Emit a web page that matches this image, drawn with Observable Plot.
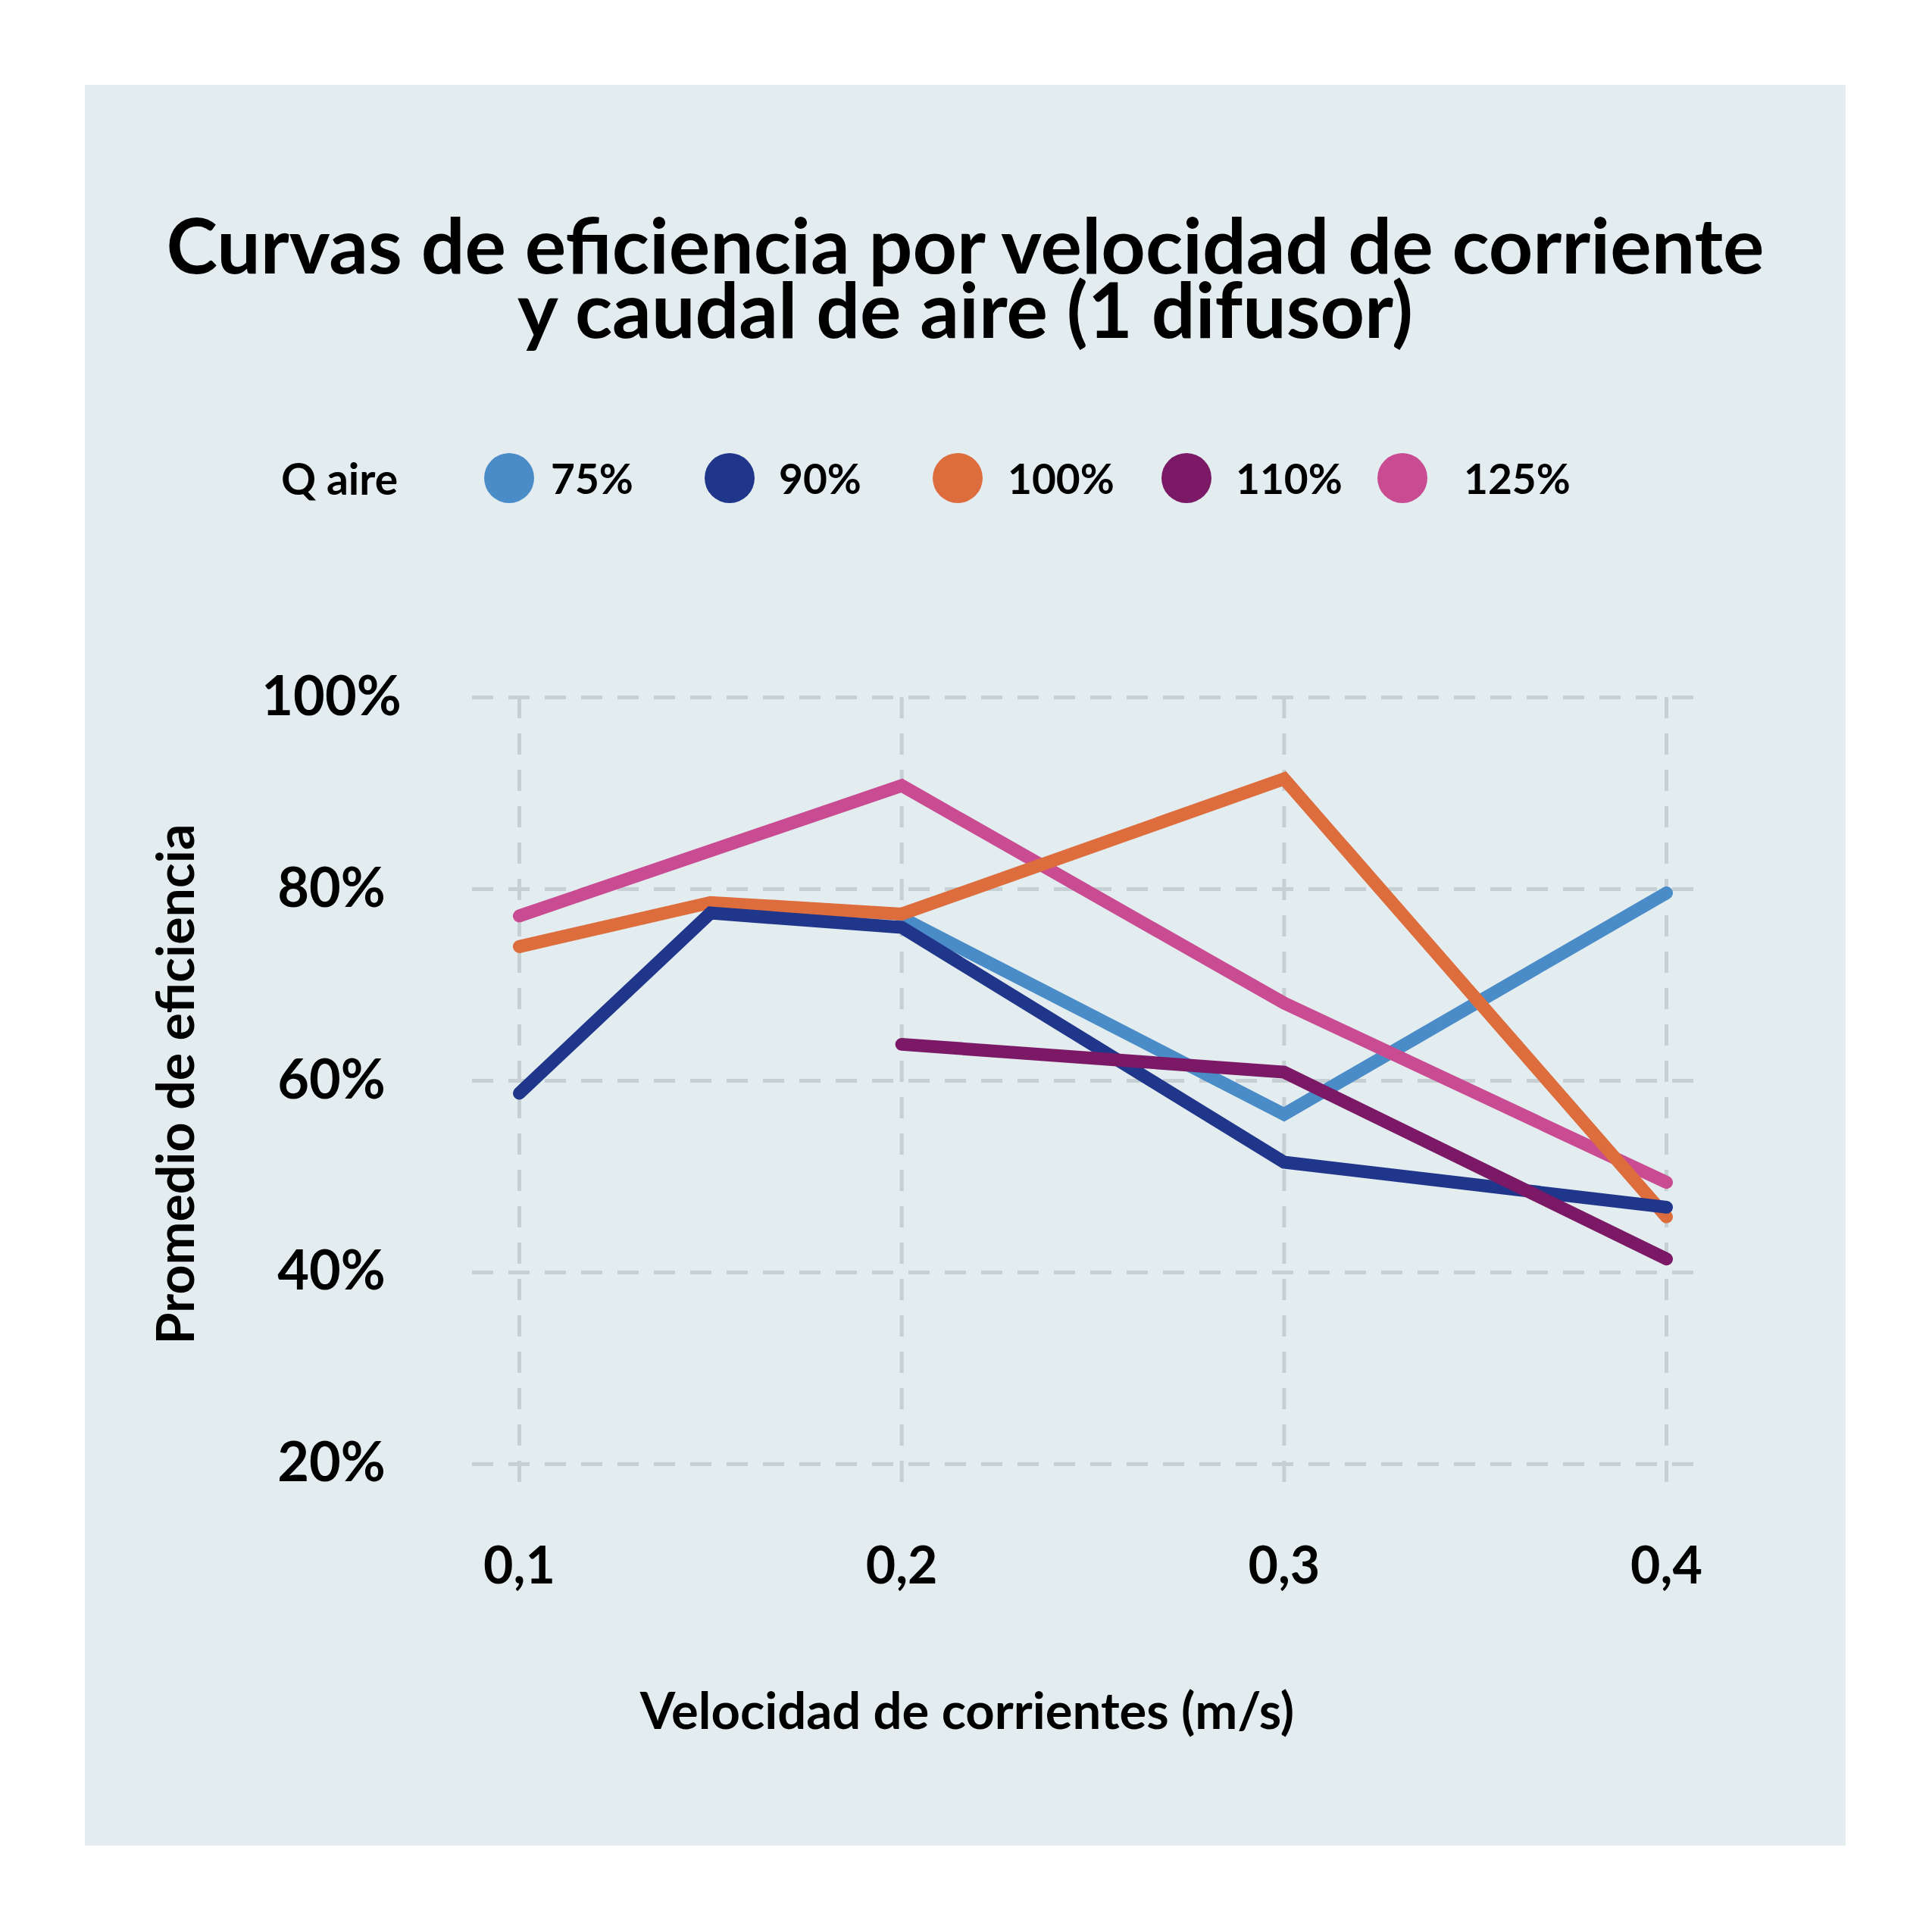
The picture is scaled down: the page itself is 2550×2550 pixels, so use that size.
<!DOCTYPE html>
<html>
<head>
<meta charset="utf-8">
<script src="https://cdn.jsdelivr.net/npm/d3@7"></script>
<script src="https://cdn.jsdelivr.net/npm/@observablehq/plot@0.6"></script>
<style>
  html, body { margin: 0; padding: 0; background: #ffffff; }
  #page { position: relative; width: 2550px; height: 2550px; background: #ffffff; font-family: Lato, "Open Sans", sans-serif; color: #000; }
  #panel { position: absolute; left: 112px; top: 112px; width: 2324px; height: 2324px; background: #e3edf0; }
  #title { position: absolute; left: 0; top: 167px; width: 100%; text-align: center; font-weight: 700; font-size: 102px; line-height: 85px; }
  #legend { position: absolute; left: 0; top: 479px; width: 100%; height: 80px; }
  .lg-title, .lg-label { position: absolute; top: 0; height: 80px; line-height: 80px; font-size: 55px; font-weight: 700; white-space: nowrap; }
  .lg-title { font-size: 57px; }
  .lg-dot { position: absolute; top: 7px; width: 66px; height: 66px; border-radius: 50%; }
  #chart { position: absolute; left: 0; top: 688px; }
</style>
</head>
<body>
<div id="page">
  <div id="panel">
    <div id="title"></div>
    <div id="legend"></div>
    <div id="chart"></div>
  </div>
</div>
<script>
// ---- data ----
const titleLines = ["Curvas de eficiencia por velocidad de corriente", "y caudal de aire (1 difusor)"];
const legendTitle = "Q aire";
const xLabel = "Velocidad de corrientes (m/s)";
const yLabel = "Promedio de eficiencia";

const velocities = [0.1, 0.15, 0.2, 0.3, 0.4];
const seriesNames = ["75%", "90%", "100%", "110%", "125%"];
const seriesColors = ["#4a8cc7", "#20368b", "#dd6d3d", "#7b1966", "#c94c93"];

const q75  = [null, null, 77.0, 56.5, 79.6];
const q90  = [58.7, 77.5, 76.0, 51.5, 46.8];
const q100 = [74.0, 78.6, 77.4, 91.5, 45.8];
const q110 = [null, null, 63.8, 60.9, 41.4];
const q125 = [77.2, null, 90.8, 68.1, 49.4];

const xTicks = [0.1, 0.2, 0.3, 0.4];
const yTicks = [20, 40, 60, 80, 100];

// drawing order (bottom to top)
const drawOrder = ["75%", "125%", "100%", "90%", "110%"];

// ---- build ----
const valuesByName = {"75%": q75, "90%": q90, "100%": q100, "110%": q110, "125%": q125};
const table = [];
for (const name of drawOrder) {
  valuesByName[name].forEach((v, i) => {
    if (v != null) table.push({s: name, x: velocities[i], y: v});
  });
}

document.getElementById("title").innerHTML = titleLines.join("<br>");

// legend layout (panel-relative pixel positions)
const legendDotCenters = [560, 851, 1152, 1454, 1739];
const legendLabelLefts = [615, 916, 1218, 1519, 1820];
const legend = document.getElementById("legend");
const t = document.createElement("div");
t.className = "lg-title"; t.style.left = "259px"; t.textContent = legendTitle;
legend.appendChild(t);
seriesNames.forEach((name, i) => {
  const dot = document.createElement("div");
  dot.className = "lg-dot"; dot.style.left = (legendDotCenters[i] - 33) + "px"; dot.style.background = seriesColors[i];
  legend.appendChild(dot);
  const lab = document.createElement("div");
  lab.className = "lg-label"; lab.style.left = legendLabelLefts[i] + "px"; lab.textContent = name;
  legend.appendChild(lab);
});

const gridStyle = {stroke: "#c6cfd3", strokeOpacity: 1, strokeWidth: 5, strokeDasharray: "28,20"};

const chart = Plot.plot({
  width: 2324,
  height: 1560,
  marginLeft: 511,
  marginRight: 195,
  marginTop: 120,
  marginBottom: 399,
  style: {background: "transparent", fontFamily: "Lato, 'Open Sans', sans-serif", color: "#000", overflow: "visible"},
  x: {domain: [0.08772, 0.40832]},
  y: {domain: [17.7, 100]},
  color: {domain: seriesNames, range: seriesColors},
  marks: [
    Plot.gridX(xTicks, gridStyle),
    Plot.gridY(yTicks, gridStyle),
    Plot.line(table, {x: "x", y: "y", z: "s", stroke: "s", strokeWidth: 17, strokeLinecap: "round", strokeLinejoin: "miter", strokeMiterlimit: 4}),
    Plot.axisX(xTicks, {tickSize: 0, tickPadding: 80, tickFormat: d => d.toFixed(1).replace(".", ","), fontSize: 68, fontWeight: 700, fill: "#000", label: null}),
    Plot.axisY(yTicks, {tickSize: 0, tickPadding: 186, textAnchor: "middle", tickFormat: d => d + "%", fontSize: 72, fontWeight: 700, fill: "#000", label: null}),
    Plot.text([xLabel], {text: d => d, frameAnchor: "bottom", dx: -156, dy: 299, lineAnchor: "middle", textAnchor: "middle", fontSize: 67, fontWeight: 700, fill: "#000"}),
    Plot.text([yLabel], {text: d => d, frameAnchor: "left", dx: -389, dy: -10, rotate: -90, lineAnchor: "middle", textAnchor: "middle", fontSize: 68, fontWeight: 700, fill: "#000"})
  ]
});
document.getElementById("chart").appendChild(chart);
</script>
</body>
</html>
